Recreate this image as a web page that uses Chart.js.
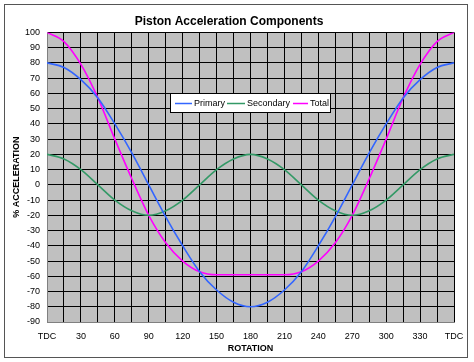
<!DOCTYPE html>
<html>
<head>
<meta charset="utf-8">
<script src="https://cdn.jsdelivr.net/npm/chart.js@4/dist/chart.umd.min.js"></script>
<style>
html, body { margin:0; padding:0; background:#fff; }
#wrap { width:474px; height:362px; position:relative; }
</style>
</head>
<body>
<div id="wrap"><canvas id="accChart" width="474" height="362"></canvas></div>
<script>
// rotation angle (deg) and % acceleration
var rotation=[0,15,30,45,60,75,90,105,120,135,150,165,180,195,210,225,240,255,270,285,300,315,330,345,360];
var primary=[80,77,69,57,40,21,0,-21,-40,-57,-69,-77,-80,-77,-69,-57,-40,-21,0,21,40,57,69,77,80];
var secondary=[20,17,10,0,-10,-17,-20,-17,-10,0,10,17,20,17,10,0,-10,-17,-20,-17,-10,0,10,17,20];
var total=[100,94,79,57,30,4,-20,-38,-50,-57,-59,-59,-59,-59,-59,-57,-50,-38,-20,4,30,57,79,94,100];
var seriesNames=["Primary","Secondary","Total"];
var seriesColors=["#3366FF","#339966","#FF00FF"];
var xLabels={0:"TDC",360:"TDC"};

function pts(vals) {
	var out=[];
	for (var i=0; i<rotation.length; i++) out.push({x: rotation[i], y: vals[i]});
	return out;
}

var frameAndLegend={
	id: 'frameAndLegend',
	beforeDraw: function(chart) {
		var ctx=chart.ctx;
		var a=chart.chartArea;
		ctx.save();
		ctx.fillStyle="#fff";
		ctx.fillRect(0,0,chart.width,chart.height);
		ctx.strokeStyle="#555";
		ctx.lineWidth=1;
		ctx.strokeRect(4.5,4.5,463,353);
		ctx.fillStyle="#C0C0C0";
		ctx.fillRect(a.left,a.top,a.right-a.left,a.bottom-a.top);
		ctx.restore();
	},
	afterDraw: function(chart) {
		var ctx=chart.ctx;
		ctx.save();
		ctx.fillStyle="#fff";
		ctx.fillRect(170,93,160,19);
		ctx.strokeStyle="#000";
		ctx.lineWidth=1;
		ctx.strokeRect(170.5,93.5,160,19);
		var lx=[175,227,293];
		var ll=[17,18,15];
		ctx.font="9px 'Liberation Sans', Arial, sans-serif";
		ctx.textBaseline="middle";
		ctx.fillStyle="#000";
		for (var i=0; i<3; i++) {
			ctx.strokeStyle=seriesColors[i];
			ctx.lineWidth=1.5;
			ctx.beginPath();
			ctx.moveTo(lx[i],103.5);
			ctx.lineTo(lx[i]+ll[i],103.5);
			ctx.stroke();
			ctx.fillText(seriesNames[i],lx[i]+ll[i]+2,104);
		}
		ctx.restore();
	}
};

var datasets=[];
var allVals=[primary,secondary,total];
for (var i=0; i<3; i++) {
	datasets.push({
		label: seriesNames[i],
		data: pts(allVals[i]),
		borderColor: seriesColors[i],
		backgroundColor: seriesColors[i],
		borderWidth: 1.6,
		pointRadius: 0,
		cubicInterpolationMode: 'monotone',
		fill: false
	});
}

var tickFont={family: "'Liberation Sans', Arial, sans-serif", size: 9};
var boldFont={family: "'Liberation Sans', Arial, sans-serif", size: 9, weight: 'bold'};

new Chart(document.getElementById('accChart').getContext('2d'), {
	type: 'line',
	data: {datasets: datasets},
	plugins: [frameAndLegend],
	options: {
		responsive: false,
		animation: false,
		layout: {padding: {left: 4, right: 20, top: 0, bottom: 0}},
		plugins: {
			legend: {display: false},
			tooltip: {enabled: false},
			title: {
				display: true,
				text: "Piston Acceleration Components",
				color: "#000",
				font: {family: "'Liberation Sans', Arial, sans-serif", size: 12, weight: 'bold'},
				padding: {top: 14, bottom: 4}
			}
		},
		scales: {
			x: {
				type: 'linear',
				min: 0, max: 360,
				afterFit: function(s) { s.height=40; },
				ticks: {
					stepSize: 15,
					autoSkip: false,
					maxRotation: 0,
					padding: 9,
					color: "#000",
					font: tickFont,
					callback: function(v) {
						if (v%30!=0) return "";
						if (xLabels[v]) return xLabels[v];
						return ""+v;
					}
				},
				grid: {color: "#000", lineWidth: 1, drawTicks: false},
				border: {color: "#808080"},
				title: {display: true, text: "ROTATION", color: "#000", font: boldFont, padding: {top: 0, bottom: 8}}
			},
			y: {
				min: -90, max: 100,
				afterFit: function(s) { s.width=43; },
				ticks: {stepSize: 10, padding: 7, color: "#000", font: tickFont},
				grid: {color: "#000", lineWidth: 1, drawTicks: false},
				border: {color: "#808080"},
				title: {display: true, text: "% ACCELERATION", color: "#000", font: boldFont, padding: {top: 7, bottom: 0}}
			}
		}
	}
});
</script>
</body>
</html>
